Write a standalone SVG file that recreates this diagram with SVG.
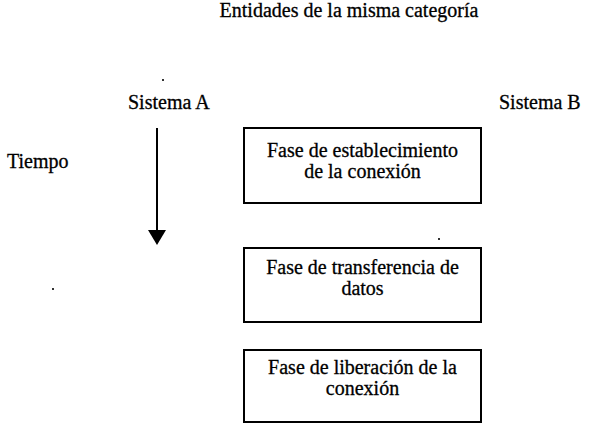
<svg xmlns="http://www.w3.org/2000/svg" width="596" height="424" viewBox="0 0 596 424">
<style>
text{font-family:"Liberation Serif","Times New Roman",serif;font-size:20px;fill:#000;stroke:#000;stroke-width:0.3}
.c{text-anchor:middle}
.box{fill:#fff;stroke:#000;stroke-width:2}
.speck{fill:#333}
</style>
<rect width="596" height="424" fill="#fff"/>
<g id="title"><text x="349" y="17" class="c">Entidades de la misma categoría</text></g>
<g id="sistemaA"><text x="128" y="109">Sistema A</text></g>
<g id="sistemaB"><text x="499" y="109">Sistema B</text></g>
<g id="tiempo"><text x="7" y="168">Tiempo</text></g>
<g id="connectors">
<line x1="157" y1="128" x2="157" y2="232" stroke="#000" stroke-width="2"/>
<path d="M148,230 L166,230 L157,245 Z" fill="#000"/>
</g>
<g id="fase1">
<rect class="box" x="244" y="128" width="237" height="75"/>
<text x="362.5" y="157" class="c">Fase de establecimiento</text>
<text x="362.5" y="178" class="c">de la conexión</text>
</g>
<g id="fase2">
<rect class="box" x="244" y="248" width="237" height="74"/>
<text x="362.5" y="274" class="c">Fase de transferencia de</text>
<text x="362.5" y="295" class="c">datos</text>
</g>
<g id="fase3">
<rect class="box" x="244" y="350" width="237" height="72"/>
<text x="362.5" y="374" class="c">Fase de liberación de la</text>
<text x="362.5" y="395" class="c">conexión</text>
</g>
<rect class="speck" x="162" y="79" width="2" height="2"/>
<rect class="speck" x="438" y="238" width="2" height="2"/>
<rect class="speck" x="52" y="288" width="2" height="2"/>
</svg>
